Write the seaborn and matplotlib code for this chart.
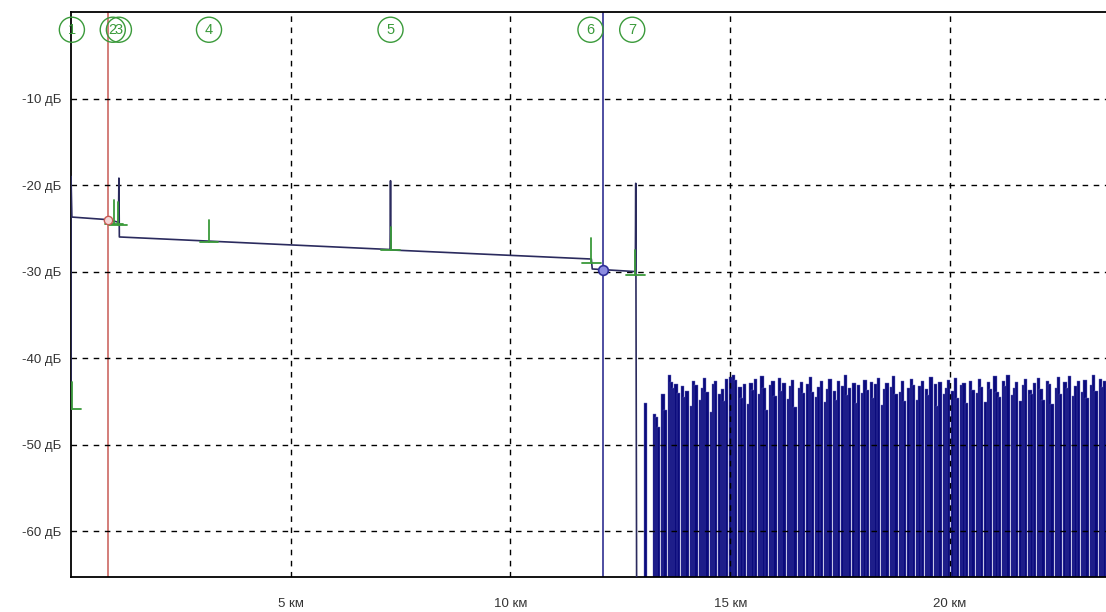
import numpy as np
import pandas as pd
import matplotlib
matplotlib.use("Agg")
import matplotlib.pyplot as plt
import seaborn as sns

# ---------------- data ----------------
# main OTDR trace (distance km, level dB)
trace_km = [0.0, 0.0, 0.02, 0.84, 1.08, 1.09, 1.10, 7.26, 7.27, 7.28, 11.84, 11.86,
            12.84, 12.85, 12.87]
trace_db = [-45.5, -19.0, -23.7, -24.0, -24.3, -19.2, -26.0, -27.45, -19.5, -27.5,
            -28.55, -29.7, -30.0, -19.8, -66.0]

# noise after fibre end: start km, step km, peak levels (-80 = gap to floor)
noise_start = 13.07
noise_step = 0.05
noise_db = [
    -45.2, -80, -80, -80, -46.5, -46.8, -48.0, -80, -44.1, -46.0,
    -80, -42.0, -42.8, -43.5, -43.0, -44.0, -80, -43.2, -44.5, -43.8,
    -80, -45.5, -42.6, -43.1, -80, -44.8, -43.4, -42.3, -43.9, -80,
    -46.2, -43.0, -42.7, -80, -44.1, -43.6, -45.0, -42.4, -80, -42.2,
    -41.9, -42.5, -80, -43.3, -44.6, -43.0, -80, -45.3, -42.9, -43.7,
    -42.4, -80, -44.2, -42.1, -43.5, -46.0, -80, -43.1, -42.6, -44.4,
    -80, -42.3, -43.8, -42.9, -80, -44.7, -43.2, -42.5, -45.6, -80,
    -43.4, -42.8, -44.0, -80, -43.0, -42.2, -43.9, -80, -44.5, -43.3,
    -42.7, -80, -45.1, -43.6, -42.4, -80, -43.8, -44.9, -42.6, -80,
    -43.2, -42.0, -44.3, -43.5, -80, -42.9, -45.2, -43.1, -80, -44.0,
    -42.5, -43.7, -80, -42.8, -44.6, -43.0, -42.3, -80, -45.4, -43.6,
    -42.9, -80, -43.3, -42.1, -44.2, -80, -43.9, -42.6, -45.0, -80,
    -43.5, -42.4, -43.1, -80, -44.8, -43.2, -42.7, -80, -43.6, -44.3,
    -42.2, -80, -43.0, -45.5, -42.8, -80, -44.1, -43.4, -42.5, -80,
    -43.8, -42.3, -44.6, -80, -43.1, -42.9, -45.2, -80, -42.6, -43.7,
    -80, -44.0, -42.4, -43.3, -80, -45.1, -42.8, -43.6, -80, -42.1,
    -43.9, -44.5, -80, -42.7, -43.2, -42.0, -80, -44.3, -43.5, -42.8,
    -80, -45.0, -43.1, -42.4, -80, -43.7, -44.2, -42.9, -80, -42.3,
    -43.6, -44.8, -80, -42.6, -43.0, -45.3, -80, -43.4, -42.2, -44.1,
    -80, -42.8, -43.5, -42.1, -80, -44.4, -43.2, -42.7, -80, -43.9,
    -42.5, -44.6, -80, -43.1, -42.0, -43.8, -80, -42.4, -43.3, -42.6,
]

# events: label, km, level (dB) of marker base, marker top (dB)
event_labels = ["1", "2", "3", "4", "5", "6", "7"]
event_km = [0.02, 0.98, 1.07, 3.14, 7.27, 11.84, 12.84]
event_label_km = [0.02, 0.95, 1.09, 3.14, 7.27, 11.82, 12.77]
event_base_db = [-45.9, -24.5, -24.6, -26.55, -27.45, -29.0, -30.4]
event_top_db = [-42.8, -21.7, -22.0, -24.0, -24.9, -26.1, -27.5]

# cursors
cursor_a_km, cursor_a_db = 0.84, -24.0
cursor_b_km, cursor_b_db = 12.11, -29.8

x_ticks = [5, 10, 15, 20]
x_tick_labels = ["5 км", "10 км", "15 км", "20 км"]
y_ticks = [-60, -50, -40, -30, -20, -10]
y_tick_labels = ["-60 дБ", "-50 дБ", "-40 дБ", "-30 дБ", "-20 дБ", "-10 дБ"]

# ---------------- plot ----------------
sns.set_style("white")
plt.rcParams["font.family"] = ["Liberation Sans", "DejaVu Sans"]

fig = plt.figure(figsize=(11.06, 6.12), dpi=100)
ax = fig.add_axes([71 / 1106, 35 / 612, 1 - 71 / 1106, 565 / 612])

XMIN, XMAX = 0.0, 23.55
YMIN, YMAX = -65.3, 0.0
FLOOR = -80

# noise (bars from floor up to each peak; gap samples left empty)
noise_km = noise_start + noise_step * np.arange(len(noise_db))
noise_arr = np.array(noise_db)
keep = noise_arr > FLOOR
ax.bar(noise_km[keep], noise_arr[keep] - FLOOR, bottom=FLOOR,
       width=noise_step * 1.55, color="#0b0b7c", edgecolor="#6a6ac0",
       linewidth=0.3, zorder=1)

# cursors (behind trace)
ax.axvline(cursor_a_km, color="#c85a55", lw=1.1, zorder=2)
ax.axvline(cursor_b_km, color="#40409a", lw=1.3, zorder=2)

# trace
df = pd.DataFrame({"km": trace_km, "db": trace_db})
sns.lineplot(data=df, x="km", y="db", sort=False, estimator=None, ax=ax,
             color="#2b2b5e", lw=1.2, zorder=3)

# event markers
green = "#3a9a3a"
for k, b, t in zip(event_km, event_base_db, event_top_db):
    ax.plot([k, k], [b, t], color=green, lw=1.3, zorder=4)
    ax.plot([k - 0.21, k + 0.21], [b, b], color=green, lw=1.3, zorder=4)

for lab, k in zip(event_labels, event_label_km):
    ax.text(k, -2.05, lab, color=green, fontsize=10.5, ha="center", va="center",
            zorder=5,
            bbox=dict(boxstyle="circle,pad=0.38", fc="none", ec=green, lw=1.0))

# cursor points
ax.plot([cursor_a_km], [cursor_a_db], marker="o", ms=6, mfc="#f4d6d6",
        mec="#c85a55", mew=1.0, zorder=6)
ax.plot([cursor_b_km], [cursor_b_db], marker="o", ms=7, mfc="#8c8ce0",
        mec="#30309a", mew=1.2, zorder=6)

ax.set_xlim(XMIN, XMAX)
ax.set_ylim(YMIN, YMAX)
ax.set_xticks(x_ticks)
ax.set_xticklabels(x_tick_labels)
ax.set_yticks(y_ticks)
ax.set_yticklabels(y_tick_labels)
ax.set_xlabel("")
ax.set_ylabel("")
ax.tick_params(axis="both", length=0, labelsize=9.5, colors="#333333")
ax.tick_params(axis="x", pad=15)
ax.tick_params(axis="y", pad=7)

ax.set_axisbelow(False)
ax.grid(True, color="black", lw=1.0, linestyle=(0, (4, 4)))

for s in ["left", "bottom", "top"]:
    ax.spines[s].set_color("black")
    ax.spines[s].set_linewidth(1.3)
ax.spines["right"].set_visible(False)

fig.savefig("out.png", dpi=100)
